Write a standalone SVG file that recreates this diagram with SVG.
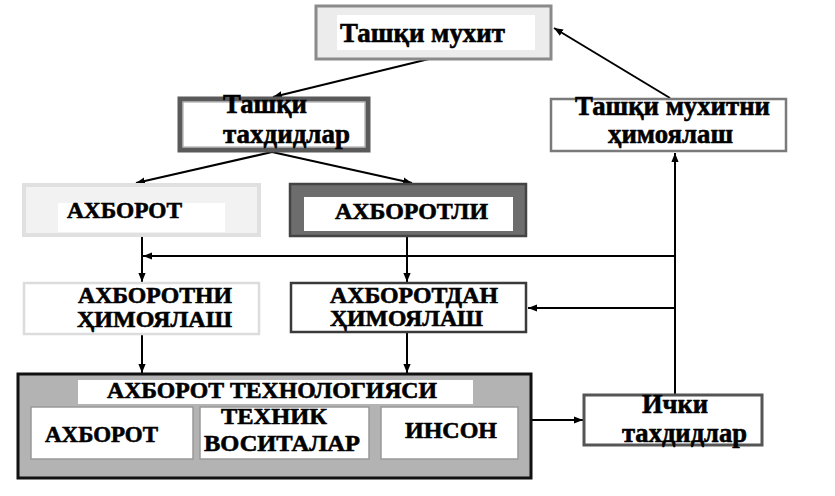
<svg xmlns="http://www.w3.org/2000/svg" width="835" height="496" viewBox="0 0 835 496">
<style>
text{font-family:"Liberation Serif","DejaVu Serif","Times New Roman",serif;font-weight:bold;fill:#000;stroke:#000;stroke-width:0.6}
.lc{font-size:27px}
.uc{font-size:23px}
.ln{stroke:#000;stroke-width:2;fill:none}
</style>
<defs>
<marker id="ah" viewBox="0 0 10 10" refX="10" refY="5" markerWidth="9" markerHeight="9" markerUnits="userSpaceOnUse" orient="auto">
<path d="M0,1 L10,5 L0,9 Z" fill="#000"/>
</marker>
</defs>
<rect width="835" height="496" fill="#fff"/>
<g id="connectors">
<line class="ln" x1="433" y1="58" x2="273" y2="97" marker-end="url(#ah)"/>
<line class="ln" x1="272" y1="152" x2="136" y2="183" marker-end="url(#ah)"/>
<line class="ln" x1="272" y1="152" x2="412" y2="183" marker-end="url(#ah)"/>
<line class="ln" x1="142" y1="236" x2="142" y2="282" marker-end="url(#ah)"/>
<line class="ln" x1="407" y1="237" x2="407" y2="282" marker-end="url(#ah)"/>
<line class="ln" x1="675" y1="256" x2="143" y2="256" marker-end="url(#ah)"/>
<line class="ln" x1="675" y1="308" x2="528" y2="308" marker-end="url(#ah)"/>
<line class="ln" x1="675" y1="394" x2="675" y2="153" marker-end="url(#ah)"/>
<line class="ln" x1="670" y1="98" x2="554" y2="28" marker-end="url(#ah)"/>
<line class="ln" x1="142" y1="335" x2="142" y2="373" marker-end="url(#ah)"/>
<line class="ln" x1="407" y1="333" x2="407" y2="373" marker-end="url(#ah)"/>
<line class="ln" x1="532" y1="420" x2="583" y2="420" marker-end="url(#ah)"/>
</g>
<g id="tashqi-muhit">
<rect x="316" y="6" width="235" height="53" fill="#ececec" stroke="#8a8a8a" stroke-width="3"/>
<rect x="337" y="15" width="198" height="35" fill="#fff"/>
<text class="lc" x="340" y="42" textLength="165" lengthAdjust="spacingAndGlyphs">Ташқи мухит</text>
</g>
<g id="tashqi-tahdidlar">
<rect x="180" y="99" width="188" height="51" fill="#fff" stroke="#5a5a5a" stroke-width="5"/>
<rect x="183" y="102" width="182" height="45" fill="none" stroke="#9a9a9a" stroke-width="1"/>
<text class="lc" x="223" y="113" textLength="84" lengthAdjust="spacingAndGlyphs">Ташқи</text>
<text class="lc" x="223" y="143" textLength="127" lengthAdjust="spacingAndGlyphs">тахдидлар</text>
</g>
<g id="tashqi-muhitni-himoyalash">
<rect x="551" y="99" width="235" height="52" fill="#fff" stroke="#7a7a7a" stroke-width="2.5"/>
<text class="lc" x="575" y="115" textLength="195" lengthAdjust="spacingAndGlyphs">Ташқи мухитни</text>
<text class="lc" x="608" y="143" textLength="125" lengthAdjust="spacingAndGlyphs">ҳимоялаш</text>
</g>
<g id="axborot">
<rect x="24" y="185" width="235" height="50" fill="#f2f2f2" stroke="#e0e0e0" stroke-width="4"/>
<rect x="58" y="203" width="167" height="29" fill="#fff"/>
<text class="uc" x="67" y="218" textLength="115" lengthAdjust="spacingAndGlyphs">АХБОРОТ</text>
</g>
<g id="axborotli">
<rect x="290" y="184" width="236" height="52" fill="#6d6d6d" stroke="#444" stroke-width="2.5"/>
<rect x="304" y="197" width="209" height="34" fill="#fff"/>
<text class="uc" x="335" y="219" textLength="153" lengthAdjust="spacingAndGlyphs">АХБОРОТЛИ</text>
</g>
<g id="axborotni-himoyalash">
<rect x="24" y="283" width="235" height="51" fill="#fff" stroke="#dcdcdc" stroke-width="2.5"/>
<text class="uc" x="78" y="303" textLength="154" lengthAdjust="spacingAndGlyphs">АХБОРОТНИ</text>
<text class="uc" x="77" y="327" textLength="155" lengthAdjust="spacingAndGlyphs">ҲИМОЯЛАШ</text>
</g>
<g id="axborotdan-himoyalash">
<rect x="291" y="283" width="235" height="49" fill="#fff" stroke="#3a3a3a" stroke-width="2.5"/>
<text class="uc" x="330" y="303" textLength="168" lengthAdjust="spacingAndGlyphs">АХБОРОТДАН</text>
<text class="uc" x="330" y="326" textLength="153" lengthAdjust="spacingAndGlyphs">ҲИМОЯЛАШ</text>
</g>
<g id="axborot-texnologiyasi">
<rect x="18" y="374" width="513" height="104" fill="#b3b3b3" stroke="#111" stroke-width="3"/>
<rect x="78" y="380" width="395" height="24" fill="#fff"/>
<text class="uc" x="107" y="398" textLength="330" lengthAdjust="spacingAndGlyphs">АХБОРОТ ТЕХНОЛОГИЯСИ</text>
</g>
<g id="sub-axborot">
<rect x="31" y="407" width="162" height="52" fill="#fff" stroke="#999" stroke-width="1.5"/>
<text class="uc" x="45" y="442" textLength="113" lengthAdjust="spacingAndGlyphs">АХБОРОТ</text>
</g>
<g id="sub-texnik">
<rect x="200" y="407" width="169" height="52" fill="#fff" stroke="#999" stroke-width="1.5"/>
<text class="uc" x="221" y="424" textLength="106" lengthAdjust="spacingAndGlyphs">ТЕХНИК</text>
<text class="uc" x="204" y="451" textLength="156" lengthAdjust="spacingAndGlyphs">ВОСИТАЛАР</text>
</g>
<g id="sub-inson">
<rect x="381" y="407" width="137" height="52" fill="#fff" stroke="#999" stroke-width="1.5"/>
<text class="uc" x="405" y="438" textLength="92" lengthAdjust="spacingAndGlyphs">ИНСОН</text>
</g>
<g id="ichki-tahdidlar">
<rect x="584" y="395" width="178" height="50" fill="#fff" stroke="#555" stroke-width="3"/>
<text class="lc" x="642" y="413" textLength="66" lengthAdjust="spacingAndGlyphs">Ички</text>
<text class="lc" x="622" y="442" textLength="125" lengthAdjust="spacingAndGlyphs">тахдидлар</text>
</g>
</svg>
